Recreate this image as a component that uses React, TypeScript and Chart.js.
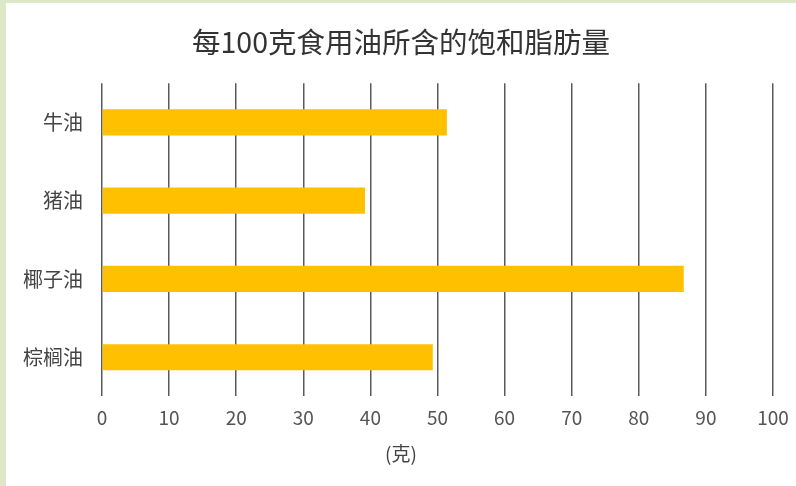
import React, { useEffect, useRef } from "react";
import { Chart, registerables } from "chart.js";

Chart.register(...registerables);

const categories = ["牛油", "猪油", "椰子油", "棕榈油"];
const saturatedFat = [51.4, 39.2, 86.7, 49.3];
const chartTitle = "每100克食用油所含的饱和脂肪量";
const xAxisTitle = "(克)";

const FONT = "'Noto Sans CJK SC', 'Noto Sans', sans-serif";

export default function App() {
  const ref = useRef<HTMLCanvasElement | null>(null);

  useEffect(() => {
    document.body.style.margin = "0";
    const ctx = ref.current!;
    const chart = new Chart(ctx, {
      type: "bar",
      data: {
        labels: categories,
        datasets: [
          {
            data: saturatedFat,
            backgroundColor: "#FFC000",
            borderWidth: 0,
            barPercentage: 0.335,
            categoryPercentage: 1,
          },
        ],
      },
      options: {
        indexAxis: "y",
        animation: false,
        responsive: false,
        maintainAspectRatio: false,
        layout: { padding: { left: 0, right: 0, top: 0, bottom: 0 } },
        plugins: {
          legend: { display: false },
          tooltip: { enabled: false },
          title: {
            display: true,
            text: chartTitle,
            color: "#333",
            font: { family: FONT, size: 28.5, weight: "normal" },
            padding: { top: 22, bottom: 24 },
          },
          subtitle: {
            display: true,
            position: "bottom",
            text: xAxisTitle,
            color: "#444",
            font: { family: FONT, size: 19, weight: "normal" },
            padding: { top: 3, bottom: 21 },
          },
        },
        scales: {
          x: {
            min: 0,
            max: 100,
            ticks: {
              stepSize: 10,
              color: "#555",
              font: { family: FONT, size: 19 },
              padding: 10,
            },
            grid: {
              display: true,
              color: "#5a5a5a",
              lineWidth: 1.5,
              drawTicks: false,
            },
            border: { display: false },
            afterFit: (scale: any) => {
              scale.paddingRight = 23;
              scale.paddingLeft = 0;
            },
          },
          y: {
            ticks: {
              color: "#444",
              font: { family: FONT, size: 20 },
              padding: 19,
            },
            grid: { display: false, drawTicks: false },
            border: { display: false },
            afterFit: (scale: any) => {
              scale.width = 96;
            },
          },
        },
      },
    });
    return () => chart.destroy();
  }, []);

  return (
    <div
      style={{
        position: "fixed",
        left: 0,
        top: 0,
        width: 796,
        height: 486,
        background: "#fff",
      }}
    >
      <div style={{ position: "absolute", left: 0, top: 0, width: 6, height: 486, background: "#DDE8C8" }} />
      <div style={{ position: "absolute", left: 0, top: 0, width: 796, height: 3, background: "#DDE8C8" }} />
      <canvas ref={ref} width={790} height={483} style={{ position: "absolute", left: 6, top: 3 }} />
    </div>
  );
}
